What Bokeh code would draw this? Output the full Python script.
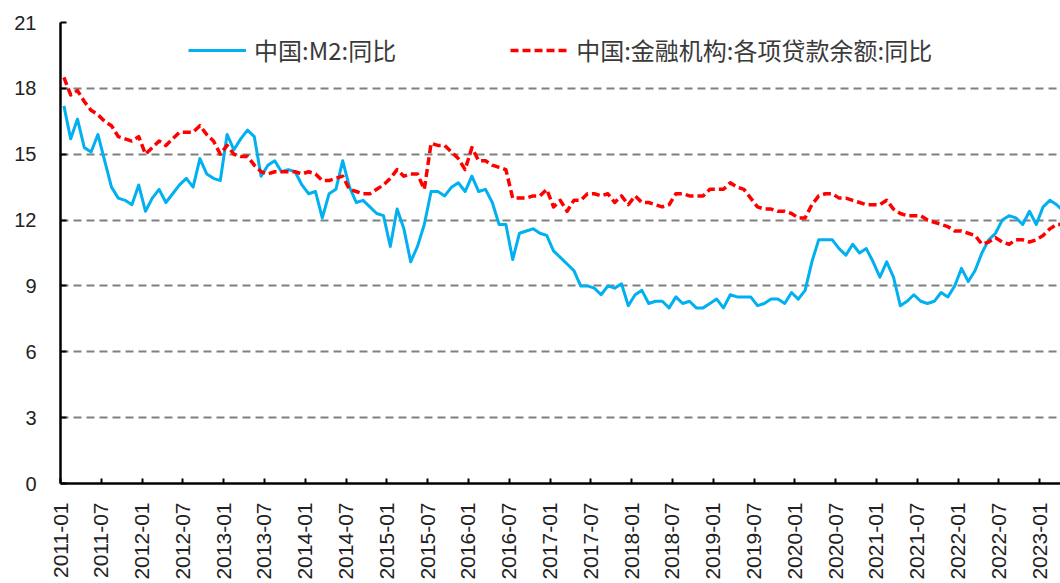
import numpy as np
import pandas as pd
from bokeh.plotting import figure
from bokeh.models import ColumnDataSource, FixedTicker, Legend, LegendItem, Range1d
from bokeh.embed import file_html
from bokeh.resources import INLINE

# ---------------- data ----------------
months = pd.date_range("2011-01-01", periods=148, freq="MS").strftime("%Y-%m").tolist()

m2_yoy = [
    17.2, 15.7, 16.6, 15.3, 15.1, 15.9, 14.7, 13.5, 13.0, 12.9, 12.7, 13.6,   # 2011
    12.4, 13.0, 13.4, 12.8, 13.2, 13.6, 13.9, 13.5, 14.8, 14.1, 13.9, 13.8,   # 2012
    15.9, 15.2, 15.7, 16.1, 15.8, 14.0, 14.5, 14.7, 14.2, 14.3, 14.2, 13.6,   # 2013
    13.2, 13.3, 12.1, 13.2, 13.4, 14.7, 13.5, 12.8, 12.9, 12.6, 12.3, 12.2,   # 2014
    10.8, 12.5, 11.6, 10.1, 10.8, 11.8, 13.3, 13.3, 13.1, 13.5, 13.7, 13.3,   # 2015
    14.0, 13.3, 13.4, 12.8, 11.8, 11.8, 10.2, 11.4, 11.5, 11.6, 11.4, 11.3,   # 2016
    10.6, 10.3, 10.0, 9.7, 9.0, 9.0, 8.9, 8.6, 9.0, 8.9, 9.1, 8.1,            # 2017
    8.6, 8.8, 8.2, 8.3, 8.3, 8.0, 8.5, 8.2, 8.3, 8.0, 8.0, 8.2,               # 2018
    8.4, 8.0, 8.6, 8.5, 8.5, 8.5, 8.1, 8.2, 8.4, 8.4, 8.2, 8.7,               # 2019
    8.4, 8.8, 10.1, 11.1, 11.1, 11.1, 10.7, 10.4, 10.9, 10.5, 10.7, 10.1,     # 2020
    9.4, 10.1, 9.4, 8.1, 8.3, 8.6, 8.3, 8.2, 8.3, 8.7, 8.5, 9.0,              # 2021
    9.8, 9.2, 9.7, 10.5, 11.1, 11.4, 12.0, 12.2, 12.1, 11.8, 12.4, 11.8,      # 2022
    12.6, 12.9, 12.7, 12.4,                                                   # 2023
]

loan_yoy = [
    18.5, 17.7, 17.9, 17.4, 17.0, 16.8, 16.5, 16.3, 15.8, 15.7, 15.6, 15.8,   # 2011
    15.0, 15.3, 15.6, 15.4, 15.7, 16.0, 16.0, 16.0, 16.3, 15.9, 15.6, 15.0,   # 2012
    15.4, 15.0, 14.9, 14.9, 14.5, 14.2, 14.1, 14.2, 14.2, 14.2, 14.2, 14.1,   # 2013
    14.2, 14.1, 13.8, 13.8, 13.9, 14.0, 13.4, 13.3, 13.2, 13.2, 13.4, 13.6,   # 2014
    13.9, 14.3, 14.0, 14.1, 14.1, 13.4, 15.5, 15.4, 15.4, 15.1, 14.8, 14.3,   # 2015
    15.3, 14.7, 14.7, 14.5, 14.4, 14.3, 13.0, 13.0, 13.0, 13.1, 13.1, 13.4,   # 2016
    12.6, 12.9, 12.4, 12.9, 12.9, 13.2, 13.2, 13.1, 13.2, 12.8, 13.1, 12.7,   # 2017
    13.1, 12.8, 12.8, 12.7, 12.6, 12.7, 13.2, 13.2, 13.1, 13.1, 13.1, 13.4,   # 2018
    13.4, 13.4, 13.7, 13.5, 13.4, 13.0, 12.6, 12.5, 12.5, 12.4, 12.4, 12.3,   # 2019
    12.1, 12.1, 12.7, 13.1, 13.2, 13.2, 13.0, 13.0, 12.9, 12.8, 12.7, 12.7,   # 2020
    12.7, 12.9, 12.5, 12.3, 12.2, 12.2, 12.2, 12.0, 11.9, 11.8, 11.7, 11.5,   # 2021
    11.5, 11.4, 11.3, 10.9, 11.0, 11.2, 11.0, 10.9, 11.1, 11.1, 11.0, 11.1,   # 2022
    11.3, 11.6, 11.8, 11.8,                                                   # 2023
]

y_ticks = [0, 3, 6, 9, 12, 15, 18, 21]
series_names = ["中国:M2:同比", "中国:金融机构:各项贷款余额:同比"]

# ---------------- figure ----------------
n = len(months)
x_pos = [i + 0.5 for i in range(n)]          # category centres
tick_pos = list(range(0, n, 6))              # category boundaries every 6 months
tick_labels = {t: months[t] for t in tick_pos}

src = ColumnDataSource(dict(x=x_pos, m2=m2_yoy, loan=loan_yoy))

p = figure(width=1060, height=583, output_backend="svg", toolbar_location=None,
           x_range=Range1d(0, 147.06), y_range=Range1d(0, 21),
           min_border_left=60, min_border_right=0, min_border_top=22, min_border_bottom=100)
p.outline_line_color = None
p.background_fill_color = "white"
p.border_fill_color = "white"

r_m2 = p.line("x", "m2", source=src, line_color="#00B0F0", line_width=3, line_join="round")
r_loan = p.line("x", "loan", source=src, line_color="#FF0000", line_width=3.5,
                line_dash="8 4", line_join="round")

# axes
p.xaxis.ticker = FixedTicker(ticks=tick_pos)
p.xaxis.major_label_overrides = tick_labels
p.xaxis.major_label_orientation = np.pi / 2
p.xaxis.major_label_standoff = 19
p.xaxis.major_label_text_font = "Liberation Sans"
p.xaxis.major_label_text_font_size = "21px"
p.xaxis.major_label_text_color = "#222222"
p.xaxis.major_tick_in = 5
p.xaxis.major_tick_out = 0
p.xaxis.minor_tick_line_color = None
p.xaxis.axis_line_width = 2.5
p.xaxis.axis_line_color = "black"
p.xaxis.major_tick_line_color = "black"
p.xaxis.major_tick_line_width = 2

p.yaxis.ticker = FixedTicker(ticks=y_ticks)
p.yaxis.major_label_standoff = 24
p.yaxis.major_label_text_font = "Liberation Sans"
p.yaxis.major_label_text_font_size = "20px"
p.yaxis.major_label_text_color = "#222222"
p.yaxis.major_tick_in = 6
p.yaxis.major_tick_out = 0
p.yaxis.minor_tick_line_color = None
p.yaxis.axis_line_width = 2.5
p.yaxis.axis_line_color = "black"
p.yaxis.major_tick_line_color = "black"
p.yaxis.major_tick_line_width = 2

p.xgrid.grid_line_color = None
p.ygrid.grid_line_color = "#808080"
p.ygrid.grid_line_width = 2
p.ygrid.grid_line_dash = "8 5"

legend = Legend(items=[LegendItem(label=series_names[0], renderers=[r_m2]),
                       LegendItem(label=series_names[1], renderers=[r_loan])],
                orientation="horizontal", location=(128, 416),
                padding=0, margin=0, spacing=114,
                glyph_width=58, glyph_height=26, label_height=26, label_standoff=8,
                label_text_font="Noto Sans CJK SC", label_text_font_size="24px",
                label_text_color="#3a3a3a",
                border_line_color=None, background_fill_alpha=0)
p.add_layout(legend)

open("out.html", "w").write(file_html(p, INLINE))
